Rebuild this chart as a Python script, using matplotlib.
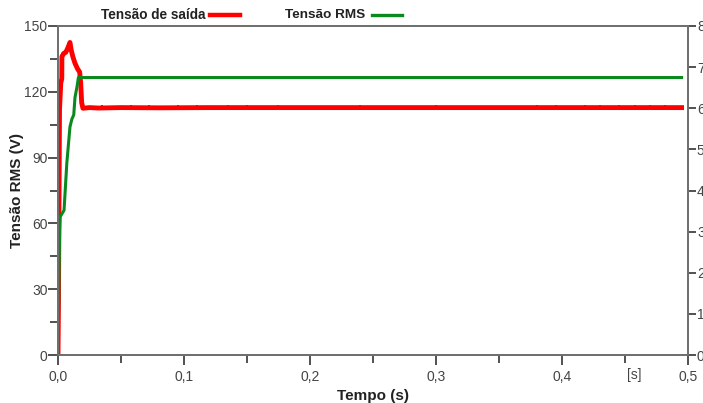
import matplotlib
matplotlib.use("Agg")
import matplotlib.pyplot as plt
from matplotlib.lines import Line2D
from matplotlib.ticker import MultipleLocator, FuncFormatter

plt.rcParams['font.family'] = ['Liberation Sans', 'DejaVu Sans']

# output voltage (red), left axis units
t_out = [0.0, 0.0004, 0.0008, 0.0012, 0.0022, 0.0030, 0.0031, 0.0045, 0.0062,
         0.0078, 0.0095, 0.0105, 0.0118, 0.0135, 0.0155, 0.0172, 0.0180,
         0.0188, 0.0198, 0.025, 0.032, 0.050, 0.080, 0.120, 0.200, 0.300,
         0.400, 0.495]
v_out = [0.0, 26.0, 70.0, 112.0, 124.0, 126.0, 136.0, 137.5, 138.0,
         140.0, 142.5, 139.0, 136.0, 133.0, 130.5, 129.0, 124.0,
         115.0, 112.5, 112.8, 112.6, 112.8, 112.7, 112.8, 112.8, 112.8,
         112.8, 112.8]
# small upward ripples visible on the red trace
spike_t = [0.035, 0.058, 0.072, 0.095, 0.110, 0.135, 0.150, 0.175, 0.240,
           0.300, 0.380, 0.395, 0.418, 0.430, 0.445, 0.458, 0.470, 0.482]
spike_v = [113.6, 113.7, 113.6, 113.7, 113.6, 113.5, 113.6, 113.5, 113.5,
           113.5, 113.5, 113.6, 113.7, 113.7, 113.7, 113.7, 113.7, 113.7]

# RMS voltage (green)
t_rms = [0.0, 0.0013, 0.0017, 0.0048, 0.0070, 0.0095, 0.0110, 0.0125,
         0.0135, 0.0150, 0.0162, 0.0200, 0.495]
v_rms = [0.0, 57.0, 63.0, 66.0, 87.5, 104.0, 107.5, 109.5, 117.5, 122.0,
         126.5, 126.5, 126.5]

fig = plt.figure(figsize=(7.03, 4.03), dpi=100)
ax = fig.add_axes([0.0825, 0.119, 0.896, 0.8165])

ax.plot(t_out, v_out, color='#ff0000', lw=3.5, solid_joinstyle='round', zorder=3)
ax.scatter(spike_t, spike_v, s=3, marker='s', color='#ff0000', linewidths=0, zorder=3)
ax.plot(t_rms, v_rms, color='#0a8a1e', lw=2.2, zorder=4)

ax.set_xlim(0, 0.5)
ax.set_ylim(0, 150)
ax.xaxis.set_major_locator(MultipleLocator(0.1))
ax.xaxis.set_minor_locator(MultipleLocator(0.05))
ax.yaxis.set_major_locator(MultipleLocator(30))
ax.yaxis.set_minor_locator(MultipleLocator(15))
ax.xaxis.set_major_formatter(FuncFormatter(lambda v, p: f"{v:.1f}".replace('.', ',')))

gray = '#707070'
for s in ax.spines.values():
    s.set_color(gray)
    s.set_linewidth(1.4)
ax.tick_params(which='both', direction='out', color='#333333', width=1.2,
               labelsize=10, labelcolor='#444444')
ax.tick_params(which='major', length=7)
ax.tick_params(which='minor', length=6)
ax.tick_params(axis='y', which='major', pad=0.5)

ax2 = ax.twinx()
ax2.set_ylim(0, 80)
ax2.yaxis.set_major_locator(MultipleLocator(10))
for s in ax2.spines.values():
    s.set_color(gray)
    s.set_linewidth(1.4)
ax2.tick_params(direction='out', length=6, width=1.2, color='#333333',
                labelsize=10, labelcolor='#444444', pad=0.5)

ax.set_xlabel('Tempo (s)', fontsize=11, fontweight='bold', color='#222222', labelpad=4)
ax.set_ylabel('Tensão RMS (V)', fontsize=11, fontweight='bold', color='#222222')
ax.yaxis.set_label_coords(-0.054, 0.5)
ax.text(0.915, -0.06, '[s]', transform=ax.transAxes, fontsize=10, color='#444444',
        ha='center', va='center')

# legend above the plot: text then line
fig.text(0.292, 0.962, 'Tensão de saída', fontsize=9.8, fontweight='bold',
         color='#222222', ha='right', va='center')
fig.add_artist(Line2D([0.299, 0.342], [0.962, 0.962], color='#ff0000', lw=3.2))
fig.text(0.519, 0.962, 'Tensão RMS', fontsize=9.7, fontweight='bold',
         color='#222222', ha='right', va='center')
fig.add_artist(Line2D([0.529, 0.572], [0.962, 0.962], color='#0a8a1e', lw=2.4))

fig.savefig('out.png', dpi=100)
